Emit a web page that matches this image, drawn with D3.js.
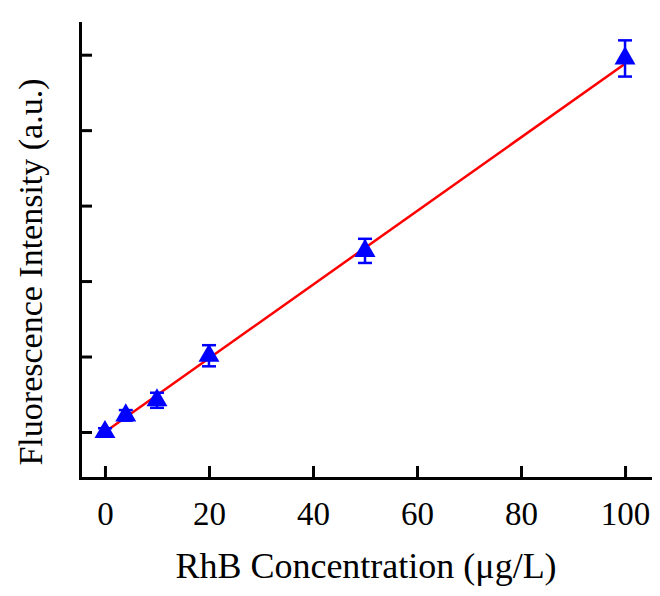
<!DOCTYPE html>
<html><head><meta charset="utf-8">
<script src="https://cdn.jsdelivr.net/npm/d3@7"></script>
<style>body{margin:0;background:#fff}svg{display:block}</style>
</head><body>
<svg id="c" width="660" height="596"></svg>
<script>
const concentrations = [0, 4, 10, 20, 50, 100];
const intensities = [0.0, 0.22, 0.42, 1.01, 2.40, 4.95];
const errors = [0.05, 0.07, 0.10, 0.14, 0.16, 0.24];
const fitX = [0, 100];
const fitY = [0.0, 4.88];
const xTicks = [0, 20, 40, 60, 80, 100];
const yTicks = [0, 1, 2, 3, 4, 5];
const xTitle = "RhB Concentration (\u03bcg/L)";
const yTitle = "Fluorescence Intensity (a.u.)";

const svg = d3.select("#c");
const L = 80, R = 650, T = 23, B = 478;
const x = d3.scaleLinear().domain([-4.8, 104.8]).range([L, R]);
const y = d3.scaleLinear().domain([-0.61, 5.42]).range([B, T]);
const font = "Times New Roman";

const xAxis = svg.append("g").attr("transform", `translate(0,${B})`)
  .call(d3.axisBottom(x).tickValues(xTicks).tickSizeInner(-12).tickSizeOuter(0).tickPadding(24));
const yAxis = svg.append("g").attr("transform", `translate(${L},0)`)
  .call(d3.axisLeft(y).tickValues(yTicks).tickSizeInner(-12).tickSizeOuter(0).tickFormat(""));
[xAxis, yAxis].forEach(g => {
  g.attr("font-family", font).attr("font-size", 33);
  g.select(".domain").attr("stroke", "#000").attr("stroke-width", 3).attr("stroke-linecap", "square");
  g.selectAll(".tick line").attr("stroke", "#000").attr("stroke-width", 3);
});
xAxis.selectAll(".tick text").attr("fill", "#000");

const fit = fitX.map((v, i) => [v, fitY[i]]);
svg.append("path").datum(fit)
  .attr("d", d3.line().x(d => x(d[0])).y(d => y(d[1])))
  .attr("stroke", "#ff0000").attr("stroke-width", 2.5).attr("fill", "none");

const data = concentrations.map((c, i) => ({c, v: intensities[i], e: errors[i]}));
const eb = svg.append("g").attr("stroke", "#0000ff").attr("stroke-width", 2.5);
data.forEach(d => {
  const cx = x(d.c), y1 = y(d.v + d.e), y2 = y(d.v - d.e);
  eb.append("line").attr("x1", cx).attr("x2", cx).attr("y1", y1).attr("y2", y2);
  eb.append("line").attr("x1", cx - 7).attr("x2", cx + 7).attr("y1", y1).attr("y2", y1);
  eb.append("line").attr("x1", cx - 7).attr("x2", cx + 7).attr("y1", y2).attr("y2", y2);
});
const tri = d3.symbol().type(d3.symbolTriangle).size(190);
svg.append("g").selectAll("path").data(data).join("path")
  .attr("d", tri)
  .attr("transform", d => `translate(${x(d.c)},${y(d.v)})`)
  .attr("fill", "#0000ff");

svg.append("text").attr("x", 366).attr("y", 578).attr("text-anchor", "middle")
  .attr("font-family", font).attr("font-size", 36).attr("fill", "#000").text(xTitle);
svg.append("text").attr("transform", "translate(42,272) rotate(-90)").attr("text-anchor", "middle")
  .attr("font-family", font).attr("font-size", 34).attr("fill", "#000").text(yTitle);
</script>
</body></html>
